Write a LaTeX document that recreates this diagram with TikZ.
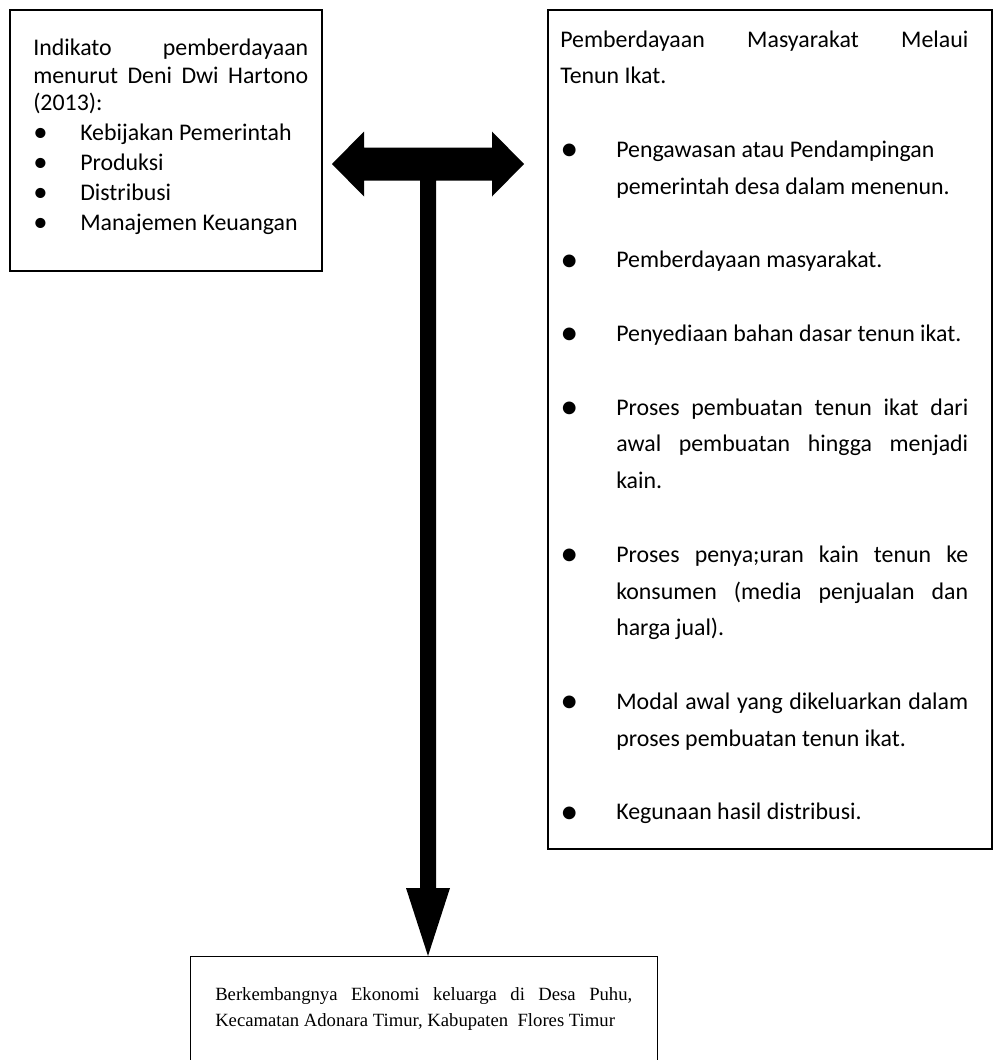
\documentclass[tikz,border=0pt]{standalone}
\usepackage{fontspec}
\setmainfont{Carlito}
\newfontfamily\tnr{Liberation Serif}
\newdimen\pxu \pxu=0.75pt
\newcommand{\calfont}{\fontsize{17.9pt}{21pt}\selectfont}
\newcommand{\tnrfont}{\tnr\fontsize{14pt}{17pt}\selectfont}
\newcommand{\bulL}{\makebox[47\pxu][l]{\raisebox{-1.2pt}{\fontsize{21.5pt}{21.5pt}\selectfont •}}}
\newcommand{\bulR}{\makebox[56\pxu][l]{\raisebox{-2.6pt}{\fontsize{27pt}{27pt}\selectfont •}}}
\tikzset{
  boxst/.style={draw, line width=1.5pt, inner sep=0pt, anchor=north west, fill=none},
  thinbox/.style={boxst, line width=1pt},
  ln/.style={inner sep=0pt, anchor=base west, font=\calfont},
  lnt/.style={inner sep=0pt, anchor=base west, font=\tnrfont},
  arrowfill/.style={fill=black}
}
\begin{document}
\begin{tikzpicture}[x=0.75pt,y=-0.75pt]
\useasboundingbox (0,0) rectangle (993,1060);
\clip (0,0) rectangle (993,1060);
\fill[white] (0,0) rectangle (993,1060);

% boxes
\node[boxst, minimum width=312\pxu, minimum height=261\pxu] (lbox) at (9,9) {};
\node[boxst, minimum width=444\pxu, minimum height=839\pxu] (rbox) at (547,9) {};
\node[thinbox, minimum width=467\pxu, minimum height=160\pxu] (bbox) at (190,956) {};

% left box text
\node[ln] (l1) at (33,55) {\makebox[275\pxu][s]{Indikato pemberdayaan}};
\node[ln] (l2) at (33,83) {\makebox[275\pxu][s]{menurut Deni Dwi Hartono}};
\node[ln] (l3) at (33,110) {(2013):};
\node[ln] (l4) at (33,140) {\bulL Kebijakan Pemerintah};
\node[ln] (l5) at (33,170) {\bulL Produksi};
\node[ln] (l6) at (33,200) {\bulL Distribusi};
\node[ln] (l7) at (33,230) {\bulL Manajemen Keuangan};

% right box text
\node[ln] (r1) at (560,47) {\makebox[408\pxu][s]{Pemberdayaan Masyarakat Melaui}};
\node[ln] (r2) at (560,83.8) {Tenun Ikat.};
\node[ln] (r3) at (560,157.4) {\bulR Pengawasan atau Pendampingan};
\node[ln] (r4) at (616,194.2) {pemerintah desa dalam menenun.};
\node[ln] (r5) at (560,267.8) {\bulR Pemberdayaan masyarakat.};
\node[ln] (r6) at (560,341.4) {\bulR Penyediaan bahan dasar tenun ikat.};
\node[ln] (r7) at (560,415) {\bulR\makebox[352\pxu][s]{Proses pembuatan tenun ikat dari}};
\node[ln] (r8) at (616,451.8) {\makebox[352\pxu][s]{awal pembuatan hingga menjadi}};
\node[ln] (r9) at (616,488.6) {kain.};
\node[ln] (r10) at (560,562.2) {\bulR\makebox[352\pxu][s]{Proses penya;uran kain tenun ke}};
\node[ln] (r11) at (616,599) {\makebox[352\pxu][s]{konsumen (media penjualan dan}};
\node[ln] (r12) at (616,635.8) {harga jual).};
\node[ln] (r13) at (560,709.4) {\bulR\makebox[352\pxu][s]{Modal awal yang dikeluarkan dalam}};
\node[ln] (r14) at (616,746.2) {proses pembuatan tenun ikat.};
\node[ln] (r15) at (560,819.8) {\bulR Kegunaan hasil distribusi.};

% bottom box text
\node[lnt] (b1) at (215,1000) {\makebox[417\pxu][s]{Berkembangnya Ekonomi keluarga di Desa Puhu,}};
\node[lnt] (b2) at (215,1026) {Kecamatan Adonara Timur, Kabupaten\ \ Flores Timur};

% T-shaped arrow
\coordinate (J) at (428,164);
\coordinate (T) at (J |- bbox.north);
\fill[arrowfill] (J) ++(-96,0) coordinate (Lt)
  -- ++(32,-32.5) -- ++(0,16) -- ++(128,0) -- ++(0,-16)
  -- ++(32,32.5) coordinate (Rt)
  -- ++(-32,32.5) -- ++(0,-16) -- ++(-56,0) -- ++(0,707.5) -- ++(14,0)
  -- (T) -- ++(-22,-68) -- ++(14,0) -- ++(0,-707.5) -- ++(-56,0) -- ++(0,16) -- cycle;
\end{tikzpicture}
\end{document}
